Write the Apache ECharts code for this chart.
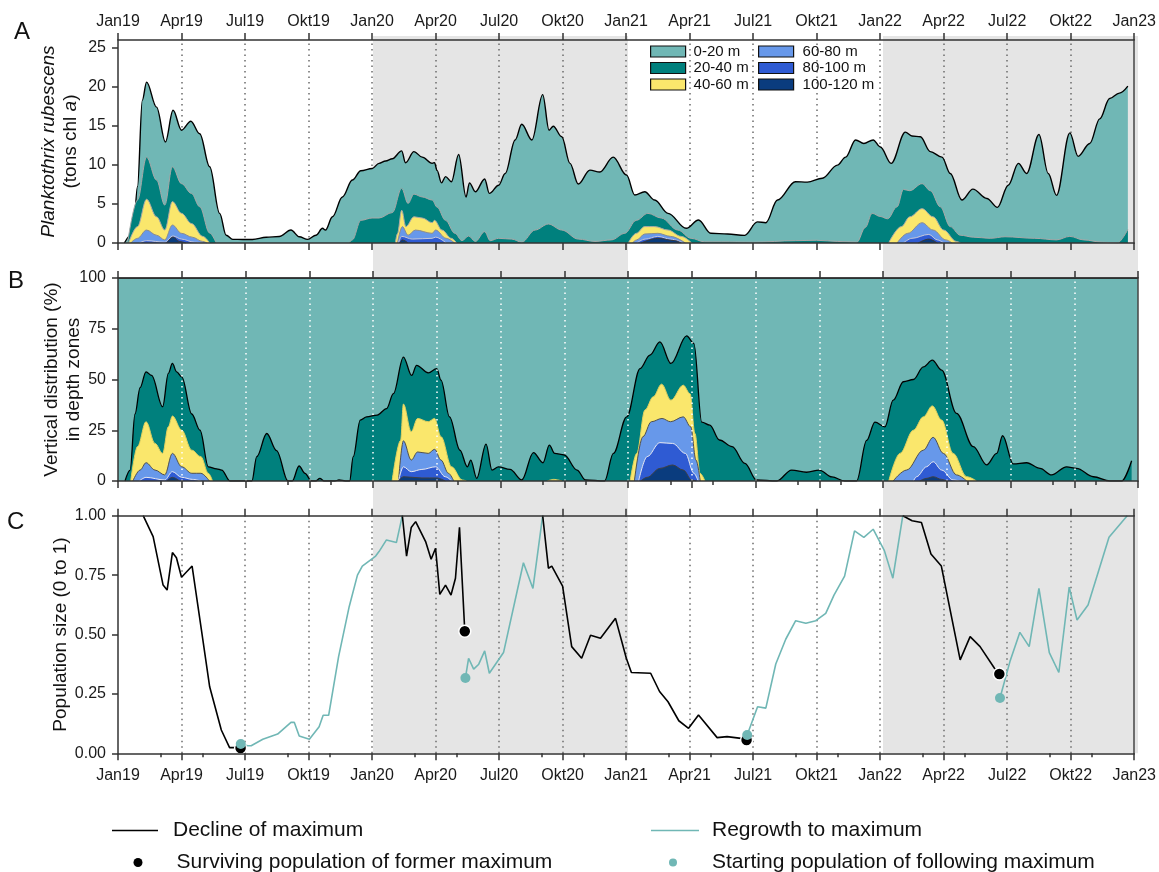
<!DOCTYPE html>
<html>
<head>
<meta charset="utf-8">
<script src="https://cdn.jsdelivr.net/npm/echarts@6/dist/echarts.min.js"></script>
<style>html,body{margin:0;padding:0;background:#fff}#c{width:1159px;height:872px}</style>
</head>
<body>
<div id="c"></div>
<script>
// x values are months since 1 Jan 2019 (0 = Jan19, 48 = Jan23)
const tickLabels = ['Jan19','Apr19','Jul19','Okt19','Jan20','Apr20','Jul20','Okt20','Jan21','Apr21','Jul21','Okt21','Jan22','Apr22','Jul22','Okt22','Jan23'];
const depthZones = ['0-20 m','20-40 m','40-60 m','60-80 m','80-100 m','100-120 m'];
const shadedPeriods = [[12, 24], [36, 48]];
const aTicks = [0, 5, 10, 15, 20, 25];

// Panel A: upper boundary (cumulative, tons chl a) of each depth zone
const aX_0_20 = [0.3,0.72,0.92,1.15,1.35,1.82,2.24,2.6,3.0,3.44,3.86,4.33,4.8,5.11,5.42,5.9,6.35,7.0,7.62,8.17,8.56,8.96,9.35,9.66,9.8,10.13,10.6,11.07,11.47,12.01,12.33,12.64,12.96,13.4,13.58,13.98,14.37,14.84,14.95,15.07,15.28,15.47,15.75,16.09,16.44,16.6,16.88,17.32,17.54,17.98,18.29,18.76,19.07,19.55,20.06,20.36,20.56,20.96,21.35,21.74,22.29,22.76,23.39,24.02,24.41,24.88,25.35,25.98,26.84,27.42,28.0,28.8,29.6,30.2,30.6,31.15,32.0,32.56,33.27,33.98,34.37,34.84,35.23,35.67,36.01,36.52,37.19,37.5,37.9,38.37,38.92,39.31,39.86,40.38,41.04,41.54,42.05,42.53,42.92,43.5,43.94,44.33,44.96,45.35,45.9,46.37,46.84,47.3,47.7];
const aY_0_20 = [0,1.3,7.2,18.3,20.6,17.4,12.95,17.0,14.45,15.6,14.0,9.76,3.8,1.0,0.47,0.45,0.45,0.73,0.84,1.66,0.8,0.47,1.0,1.88,1.66,3.36,5.9,8.06,9.25,9.55,10.2,10.5,10.8,11.8,10.27,11.7,11.0,10.2,10.3,9.3,7.7,8.5,7.85,11.34,5.9,7.7,6.56,8.2,6.35,7.4,8.9,13.2,15.2,13.2,19.0,14.45,14.96,13.6,10.2,7.55,9.33,9.1,11.0,8.7,6.14,6.56,5.5,3.8,1.88,2.94,1.24,1.15,0.98,2.7,2.6,5.5,7.85,7.8,8.3,9.97,11.0,13.2,12.75,13.2,12.3,10.2,14.2,13.7,13.6,11.7,11.0,8.9,5.5,6.9,5.7,4.56,7.4,10.2,8.9,13.9,8.9,6.1,14.1,11.1,12.75,15.9,18.5,19.2,20.1];

const aX_20_40 = [0.45,0.92,1.35,1.82,2.21,2.57,3.0,3.47,3.86,4.33,4.64,4.8,10.9,11.07,11.47,12.0,12.33,12.96,13.4,13.7,13.98,14.37,14.84,15.07,15.47,15.91,16.25,16.56,16.88,17.32,17.58,17.98,18.6,19.07,19.7,20.33,20.96,21.74,22.53,23.31,23.94,24.48,25.03,25.66,26.44,27.07,27.7,28.5,30.0,32.0,33.0,34.0,34.9,35.3,35.62,36.0,36.35,36.8,37.1,37.4,37.98,38.37,38.84,39.31,39.78,40.4,41.2,41.9,43.3,44.33,44.96,45.6,46.5,47.2,47.7];
const aY_20_40 = [0,5.5,11.0,8.06,4.86,9.76,7.6,6.35,4.64,1.28,0,null,0,0.4,2.9,3.2,3.2,3.9,7.0,5.07,6.26,5.9,5.5,4.6,2.9,1.24,0.3,0.9,0.2,1.45,0.3,0.6,0.5,0.1,1.66,2.43,1.66,0.5,0.2,0.4,1.24,2.9,3.8,3.2,1.66,0.6,0.15,0.15,0.1,0.3,0.35,0.2,0.1,2.0,3.8,3.4,3.1,4.64,6.86,6.7,7.6,6.7,4.64,2.1,1.0,0.75,0.6,0.8,0.6,0.4,0.85,0.4,0.1,0,1.75];

const aX_40_60 = [0.5,0.92,1.35,1.82,2.21,2.57,3.0,3.47,4.0,4.33,4.5,13.1,13.2,13.4,13.6,13.98,14.37,14.84,14.95,15.3,15.75,16.0,16.2,24.1,24.48,24.88,25.35,25.98,26.6,27.1,27.3,36.4,37.0,37.4,37.98,38.5,39.0,39.6,39.8];
const aY_40_60 = [0,2.1,5.6,3.36,1.66,5.3,3.8,2.5,0.85,0,null,0,1.2,4.2,2.1,3.36,3.2,2.6,2.9,1.66,0.6,0,null,0,1.24,2.1,2.1,1.66,0.85,0,null,0,2.1,3.36,4.4,3.36,1.66,0.2,0];

const aX_60_80 = [0.6,0.92,1.35,1.82,2.21,2.57,3.0,3.5,4.0,4.2,4.3,13.2,13.43,13.7,14.05,14.84,15.0,15.5,15.9,16.0,24.3,24.5,24.88,25.5,26.1,26.8,27.0,36.8,37.3,37.98,38.5,39.1,39.4];
const aY_60_80 = [0,0.6,1.66,1.0,0.4,2.3,1.24,0.75,0.2,0,null,0,2.1,1.0,1.66,1.24,1.66,0.6,0,null,0,0.4,1.15,1.24,0.85,0,null,0,1.24,2.6,1.66,0.4,0];

const aX_80_100 = [1.0,1.35,2.2,2.6,3.0,3.6,4.0,4.1,13.25,13.4,13.9,14.84,15.0,15.5,15.6,24.5,24.9,25.5,26.1,26.7,26.8,37.1,37.5,38.3,38.7,39.0];
const aY_80_100 = [0,0.3,0.1,0.9,0.5,0.1,0,null,0,0.85,0.5,0.6,0.75,0,null,0,0.5,0.85,0.5,0,null,0,0.6,1.1,0.4,0];

const aX_100_120 = [2.3,2.6,2.9,3.2,3.3,13.3,13.43,13.7,13.8,24.7,25.5,26.3,26.6,26.7,37.8,38.3,38.7];
const aY_100_120 = [0,0.75,0.2,0,null,0,0.4,0,null,0,0.6,0.3,0,null,0,0.5,0];

// Panel B: upper boundary (cumulative %) of each depth zone
const bX_0_20 = [0, 48];
const bY_0_20 = [100, 100];

const bX_20_40 = [0.33,0.57,0.8,1.04,1.32,1.58,2.1,2.37,2.56,2.76,3.0,3.47,3.86,4.25,4.64,4.88,5.27,6.3,6.53,7.0,7.46,8.0,8.2,8.52,8.8,9.1,9.3,9.5,9.7,10.2,10.4,10.7,10.9,11.07,11.4,11.7,12.2,12.64,12.96,13.43,13.82,14.05,14.6,15.0,15.2,15.6,16.09,16.44,16.6,16.88,17.32,17.6,17.9,18.45,19.0,19.55,20.0,20.3,20.55,21.0,21.6,22.0,22.9,23.31,23.94,24.57,25.03,25.5,26.02,26.76,27.1,27.47,27.85,28.3,28.9,29.5,30.05,31.0,31.7,32.4,33.0,33.6,34.2,34.76,35.23,35.62,36.09,36.48,36.96,37.43,37.9,38.32,38.76,39.46,40.25,40.88,41.35,41.63,42.13,42.76,43.39,43.93,44.64,45.11,45.9,46.68,47.23,47.7];
const bY_20_40 = [0,5.4,33,46,53.8,52,36.6,53,57.9,53.8,51.3,33,25,7,6,5.4,0,0,12,23.4,15,0,0,7.4,3.8,0,0,1.3,0,0,0.5,0,0,12,30,31.6,32.5,35.7,43,61,52,57,53.3,55.4,49.7,31.6,15.2,7,10.3,1.3,18.2,5.4,7,5.7,0.5,14,9,17.7,13.6,12.8,5.4,0.5,0,13.6,31.6,55.4,62,68.5,57.9,71.5,67.7,29,27.5,20.2,16.9,8.7,0.5,0,5.4,4.3,5.4,2,0,0,20,29,26.7,39.8,48.9,50,56.2,59.5,54.6,33.3,16.9,7.9,13.6,22.3,8.4,9,6.2,3,7,6.2,2.1,0,0,10];

const bX_40_60 = [0.6,0.92,1.32,1.74,2.1,2.37,2.56,3.0,3.47,3.9,4.25,4.45,4.5,12.9,13.3,13.43,13.8,14.1,14.6,14.9,15.2,15.7,16.2,16.4,16.5,20.2,20.5,20.9,21.0,24.1,24.41,24.8,25.19,25.58,26.02,26.6,26.92,27.15,27.39,27.62,27.7,36.27,36.8,37.43,37.9,38.32,38.76,39.3,39.94,40.4];
const bY_40_60 = [0,17,29.2,18.5,13.6,26.7,32,25,15.2,12,3.8,0,null,0,20,37.9,24.3,30.8,29.2,30.8,21.8,7,0.5,0,null,0,0.8,0,null,0,13.6,35,41.5,47.7,39.8,47.2,43,23.4,3.8,0,null,0,13.6,25,31.6,37,30,13.6,2.1,0];

const bX_60_80 = [0.7,1.04,1.32,1.74,2.2,2.56,3.0,3.47,3.9,4.3,4.4,13.2,13.43,13.8,14.1,14.6,14.9,15.2,15.55,15.8,15.9,24.3,24.7,25.1,25.6,26.0,26.6,26.95,27.2,27.4,27.5,36.48,37.11,37.9,38.36,38.84,39.46,39.94];
const bY_60_80 = [0,5.4,9,5.4,3,13.6,7,3.8,3.8,0,null,0,19.8,10.3,14.3,13.6,15.6,10.3,3.8,0,null,0,21.8,29.2,30.8,29.2,31.6,26.7,10.3,0,null,0,5.4,15.2,21.5,13.6,3,0];

const bX_80_100 = [1.0,1.32,2.2,2.56,3.0,3.5,3.9,4.0,13.2,13.43,13.8,14.3,14.95,15.4,15.7,15.8,24.5,24.9,25.5,26.1,26.7,27.1,27.3,27.4,37.43,37.58,38.05,38.36,38.76,39.3,39.6];
const bY_80_100 = [0,1.8,0.5,4.6,1.8,0.8,0,null,0,7,4.6,5.7,7,2.1,0,null,0,12,18.9,18.5,13.6,3.8,0,null,0,2.1,7,9.5,5.4,0.5,0];

const bX_100_120 = [2.3,2.56,2.9,3.0,13.2,13.43,14.3,15.0,15.4,15.5,24.6,24.9,25.5,26.1,26.6,27.0,27.2,27.3,37.74,38.05,38.36,38.76,39.0];
const bY_100_120 = [0,1.8,0,null,0,2.1,1.5,1.5,0,null,0,1.8,6.2,7.9,5.4,0.5,0,null,0,1.3,2.1,0.8,0];

// Panel C: population size (0 to 1)
const declineX = [1.19,1.66,2.13,2.32,2.57,2.76,3.0,3.5,3.94,4.33,4.88,5.27,5.74,5.79,6.0,13.43,13.63,13.85,14.06,14.53,14.79,15.0,15.2,15.47,15.73,15.94,16.13,16.38,16.5,20.06,20.33,20.49,21.0,21.43,21.9,22.32,22.79,23.5,24.01,24.25,25.16,25.58,25.98,26.49,26.95,27.42,28.3,28.77,29.43,29.69,30.0,37.07,37.51,37.95,38.4,38.89,39.78,40.25,40.72,41.4,41.63];
const declineY = [1.0,0.912,0.708,0.687,0.845,0.823,0.741,0.788,0.519,0.28,0.098,0.024,0.024,0.022,null,1.0,0.83,0.95,0.975,0.891,0.817,0.863,0.669,0.708,0.666,0.737,0.951,0.514,null,1.0,0.779,0.788,0.704,0.449,0.4,0.497,0.484,0.568,0.4,0.34,0.337,0.26,0.217,0.137,0.105,0.161,0.066,0.07,0.063,0.056,null,1.0,0.979,0.971,0.839,0.788,0.393,0.491,0.449,0.358,0.334];

const regrowthX = [5.8,6.13,6.29,6.84,7.54,8.17,8.33,8.56,9.04,9.5,9.69,9.95,10.42,10.92,11.31,11.54,12.17,12.33,12.68,13.15,13.43,14.0,16.41,16.56,16.8,17.04,17.32,17.54,18.21,19.15,19.6,20.06,21.0,29.72,30.21,30.6,31.07,31.54,32.01,32.49,32.96,33.43,33.82,34.32,34.79,35.23,35.67,36.2,36.6,37.07,38.0,41.66,42.13,42.6,43.04,43.5,43.99,44.44,44.93,45.3,45.82,46.81,47.67];
const regrowthY = [0.039,0.032,0.032,0.059,0.081,0.13,0.13,0.073,0.059,0.112,0.16,0.16,0.407,0.617,0.75,0.788,0.83,0.849,0.898,0.887,1.0,null,0.317,0.4,0.354,0.375,0.431,0.337,0.424,0.802,0.694,1.0,null,0.077,0.196,0.19,0.376,0.48,0.558,0.547,0.558,0.589,0.666,0.746,0.936,0.909,0.943,0.853,0.737,1.0,null,0.233,0.386,0.509,0.449,0.694,0.424,0.34,0.699,0.561,0.624,0.909,1.0];

const survivingX = [5.79, 16.38, 29.69, 41.63];
const survivingY = [0.022, 0.514, 0.056, 0.334];
const startingX = [5.8, 16.41, 29.72, 41.66];
const startingY = [0.039, 0.317, 0.077, 0.233];

// ---------------------------------------------------------------
const FONT = "'Liberation Sans', Arial, Helvetica, sans-serif";
const zoneFill = ['#70b7b5', '#00807d', '#fae76c', '#6798ea', '#2f5bd3', '#0a3c7e'];
const zoneLineA = ['#000000', '#a8a8a8', '#a8a8a8', '#8c8c8c', '#c8c8d8', '#3a3a3a'];
const zoneLineB = ['#000000', '#000000', '#e0d060', '#505050', '#e8e8f0', '#404040'];
const TEAL = '#70b7b5';
const AX = '#333';
const quarterLines = tickLabels.map((_, i) => i * 3).filter(v => v > 0 && v < 48);

const pairs = (xs, ys) => xs.map((x, i) => [x, ys[i] === null ? '-' : ys[i]]);

function areaSeries(name, xs, ys, idx, fill, stroke, strokeW, z) {
  return {
    type: 'line', name: name, xAxisIndex: idx.x, yAxisIndex: idx.y,
    data: pairs(xs, ys), smooth: 0.35, smoothMonotone: 'x', connectNulls: false,
    showSymbol: false, symbol: 'none', z: z, silent: true,
    lineStyle: { color: stroke, width: strokeW },
    areaStyle: { color: fill, opacity: 1 },
    itemStyle: { color: fill },
    emphasis: { disabled: true }
  };
}

const aData = [[aX_0_20, aY_0_20], [aX_20_40, aY_20_40], [aX_40_60, aY_40_60], [aX_60_80, aY_60_80], [aX_80_100, aY_80_100], [aX_100_120, aY_100_120]];
const bData = [[bX_0_20, bY_0_20], [bX_20_40, bY_20_40], [bX_40_60, bY_40_60], [bX_60_80, bY_60_80], [bX_80_100, bY_80_100], [bX_100_120, bY_100_120]];

const series = [];
series.push({
  type: 'line', name: 'shade', xAxisIndex: 8, yAxisIndex: 6, data: [], silent: true, z: -1,
  markArea: { silent: true, z: -1, itemStyle: { color: '#e5e5e5' },
    data: shadedPeriods.map(p => [{ xAxis: p[0] }, { xAxis: p[1] }]) }
});
function dotted(name, xi, yi, color, z) {
  return {
    type: 'line', name: name, xAxisIndex: xi, yAxisIndex: yi, data: [], silent: true, z: z,
    markLine: { silent: true, z: z, symbol: ['none', 'none'], label: { show: false },
      lineStyle: { color: color, type: [1.5, 4], width: 1.5 },
      data: quarterLines.map(v => ({ xAxis: v })) }
  };
}
series.push(dotted('gridA', 0, 0, '#6b6b6b', 1));
series.push(dotted('gridC', 5, 4, '#6b6b6b', 1));
series.push(dotted('gridB', 2, 2, '#ffffff', 12));

aData.forEach((d, i) => {
  series.push(areaSeries(depthZones[i], d[0], d[1], { x: 0, y: 0 }, zoneFill[i], zoneLineA[i], i === 0 ? 1.4 : 1, 3 + i));
});
bData.forEach((d, i) => {
  series.push(areaSeries('B ' + depthZones[i], d[0], d[1], { x: 2, y: 2 }, zoneFill[i], zoneLineB[i], i <= 1 ? 1.3 : 1, 3 + i));
});

series.push({
  type: 'line', name: 'Regrowth to maximum', xAxisIndex: 5, yAxisIndex: 4,
  data: pairs(regrowthX, regrowthY), connectNulls: false, showSymbol: false, symbol: 'none', z: 3,
  lineStyle: { color: TEAL, width: 1.6 }, itemStyle: { color: TEAL }, silent: true
});
series.push({
  type: 'line', name: 'Decline of maximum', xAxisIndex: 5, yAxisIndex: 4,
  data: pairs(declineX, declineY), connectNulls: false, showSymbol: false, symbol: 'none', z: 4,
  lineStyle: { color: '#000', width: 1.6 }, itemStyle: { color: '#000' }, silent: true
});
series.push({
  type: 'scatter', name: 'Surviving population of former maximum', xAxisIndex: 5, yAxisIndex: 4,
  data: pairs(survivingX, survivingY), symbolSize: 12, z: 5, silent: true,
  itemStyle: { color: '#000', borderColor: '#fff', borderWidth: 1.5, opacity: 1 }
});
series.push({
  type: 'scatter', name: 'Starting population of following maximum', xAxisIndex: 5, yAxisIndex: 4,
  data: pairs(startingX, startingY), symbolSize: 10, z: 6, silent: true,
  itemStyle: { color: TEAL, opacity: 1 }
});

const lineS = { color: AX, width: 1.5 };
function xAxisDef(grid, pos, interval, tickLen, showLine, label, labelMargin) {
  return {
    type: 'value', gridIndex: grid, position: pos, min: 0, max: 48, interval: interval, z: 20,
    axisLine: { show: showLine, onZero: false, lineStyle: lineS },
    axisTick: { show: true, inside: false, length: tickLen, lineStyle: lineS },
    axisLabel: label ? { show: true, fontSize: 16, color: '#1a1a1a', fontFamily: FONT, margin: labelMargin,
      formatter: v => tickLabels[Math.round(v / 3)] || '' } : { show: false },
    splitLine: { show: false }
  };
}
function rightAxis(grid) {
  return { type: 'value', gridIndex: grid, position: 'right', min: 0, max: 1, z: 20,
    axisLine: { show: true, onZero: false, lineStyle: { color: '#444', width: 1.5 } },
    axisTick: { show: false }, axisLabel: { show: false }, splitLine: { show: false } };
}

const option = {
  animation: false,
  backgroundColor: '#ffffff',
  textStyle: { fontFamily: FONT },
  grid: [
    { left: 118, right: 21, top: 40, height: 203 },
    { left: 118, right: 21, top: 278, height: 203 },
    { left: 118, right: 21, top: 515.7, height: 237.6 },
    { left: 118, right: 21, top: 36, height: 717.3 }
  ],
  xAxis: [
    xAxisDef(0, 'bottom', 3, 7, true, false),
    xAxisDef(0, 'top', 3, 7, true, true, 10),
    xAxisDef(1, 'bottom', 3, 7, true, false),
    xAxisDef(1, 'top', 3, 7, true, false),
    xAxisDef(1, 'bottom', 2, 4, false, false),
    xAxisDef(2, 'bottom', 3, 7, true, true, 14),
    xAxisDef(2, 'top', 3, 7, true, false),
    xAxisDef(2, 'bottom', 2, 4, false, false),
    { type: 'value', gridIndex: 3, min: 0, max: 48, show: false }
  ],
  yAxis: [
    { type: 'value', gridIndex: 0, position: 'left', min: 0, max: 26, z: 20,
      axisLine: { show: true, onZero: false, lineStyle: lineS },
      axisTick: { show: true, length: 6, lineStyle: lineS, customValues: aTicks },
      axisLabel: { fontSize: 16, color: '#1a1a1a', margin: 12, customValues: aTicks },
      splitLine: { show: false },
      name: '{i|Planktothrix rubescens}\n(tons chl {i|a})', nameLocation: 'middle', nameGap: 36, nameRotate: 90,
      nameMoveOverlap: false,
      nameTextStyle: { fontSize: 19, lineHeight: 22, color: '#111', align: 'center',
        rich: { i: { fontStyle: 'italic', fontSize: 19, lineHeight: 22, color: '#111' } } } },
    rightAxis(0),
    { type: 'value', gridIndex: 1, position: 'left', min: 0, max: 100, interval: 25, z: 20,
      axisLine: { show: true, onZero: false, lineStyle: lineS },
      axisTick: { show: true, length: 6, lineStyle: lineS },
      axisLabel: { fontSize: 16, color: '#1a1a1a', margin: 12 },
      splitLine: { show: false },
      name: 'Vertical distribution (%)\nin depth zones', nameLocation: 'middle', nameGap: 33, nameRotate: 90,
      nameMoveOverlap: false,
      nameTextStyle: { fontSize: 19, lineHeight: 22, color: '#111', align: 'center' } },
    rightAxis(1),
    { type: 'value', gridIndex: 2, position: 'left', min: 0, max: 1, interval: 0.25, z: 20,
      axisLine: { show: true, onZero: false, lineStyle: lineS },
      axisTick: { show: true, length: 6, lineStyle: lineS },
      axisLabel: { fontSize: 16, color: '#1a1a1a', margin: 12, formatter: v => v.toFixed(2) },
      splitLine: { show: false },
      name: 'Population size (0 to 1)', nameLocation: 'middle', nameGap: 48, nameRotate: 90,
      nameMoveOverlap: false,
      nameTextStyle: { fontSize: 19, color: '#111' } },
    rightAxis(2),
    { type: 'value', gridIndex: 3, min: 0, max: 1, show: false }
  ],
  legend: [
    { data: depthZones.slice(0, 3), orient: 'vertical', left: 650, top: 44, padding: 0, itemGap: 1.5,
      icon: 'rect', itemWidth: 35, itemHeight: 11, selectedMode: false,
      itemStyle: { borderColor: '#111', borderWidth: 1.2 },
      textStyle: { fontSize: 15, color: '#111', padding: [0, 0, 0, 3] } },
    { data: depthZones.slice(3, 6), orient: 'vertical', left: 758, top: 44, padding: 0, itemGap: 1.5,
      icon: 'rect', itemWidth: 35, itemHeight: 11, selectedMode: false,
      itemStyle: { borderColor: '#111', borderWidth: 1.2 },
      textStyle: { fontSize: 15, color: '#111', padding: [0, 0, 0, 4] } },
    { data: ['Decline of maximum'], left: 112, top: 820, padding: 0, icon: 'rect', itemWidth: 46, itemHeight: 1.5,
      selectedMode: false, textStyle: { fontSize: 21, color: '#111', padding: [0, 0, 0, 10] } },
    { data: ['Surviving population of former maximum'], left: 133.5, top: 852, padding: 0, icon: 'circle',
      itemWidth: 9, itemHeight: 9, selectedMode: false, itemStyle: { borderWidth: 0 },
      textStyle: { fontSize: 21, color: '#111', padding: [0, 0, 0, 29] } },
    { data: ['Regrowth to maximum'], left: 651, top: 820, padding: 0, icon: 'rect', itemWidth: 48, itemHeight: 1.5,
      selectedMode: false, textStyle: { fontSize: 21, color: '#111', padding: [0, 0, 0, 8] } },
    { data: ['Starting population of following maximum'], left: 669, top: 852, padding: 0, icon: 'circle',
      itemWidth: 8, itemHeight: 8, selectedMode: false,
      textStyle: { fontSize: 21, color: '#111', padding: [0, 0, 0, 30] } }
  ],
  graphic: [
    { type: 'text', left: 14, top: 20, style: { text: 'A', fontSize: 24, fill: '#111', fontFamily: FONT } },
    { type: 'text', left: 8, top: 269, style: { text: 'B', fontSize: 24, fill: '#111', fontFamily: FONT } },
    { type: 'text', left: 7, top: 510, style: { text: 'C', fontSize: 24, fill: '#111', fontFamily: FONT } }
  ],
  series: series
};

const chart = echarts.init(document.getElementById('c'), null, { renderer: 'canvas', width: 1159, height: 872 });
chart.setOption(option);
</script>
</body>
</html>
